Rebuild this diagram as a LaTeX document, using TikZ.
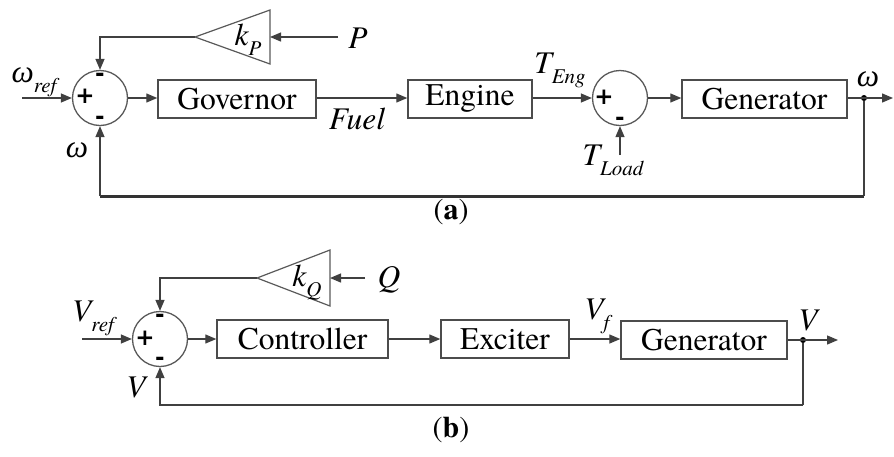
\documentclass[tikz,border=0pt]{standalone}
\usepackage{fontspec}
% Times-like serif for all labels
\setmainfont{texgyretermes}[Extension=.otf, UprightFont=*-regular, BoldFont=*-bold,
  ItalicFont=*-italic, BoldItalicFont=*-bolditalic]
\newfontfamily\signfont{DejaVu Sans}
\newfontfamily\greekfont{Liberation Serif}
\usetikzlibrary{arrows.meta}
\newcommand\subtxt[1]{\raisebox{-0.32em}{\fontsize{21}{21}\selectfont #1}}
\newcommand\omg{{\greekfont\itshape ω}}

\begin{document}
\begin{tikzpicture}[x=1pt,y=-1pt,
  wire/.style={line width=1.3pt, draw=black!75},
  flow/.style={wire,-{Triangle[length=11pt,width=9pt]}},
  block/.style={draw=black!70,line width=1.4pt,minimum height=38pt,inner sep=0pt,
                font=\fontsize{31.5}{34}\selectfont},
  summer/.style={circle,draw=black!65,line width=1.3pt,minimum size=55pt,inner sep=0pt},
  lbl/.style={font=\fontsize{31.5}{34}\selectfont\itshape,inner sep=0pt},
  sgn/.style={font=\signfont\bfseries\fontsize{23}{23}\selectfont,inner sep=0pt},
  gain/.style={draw=black!65,line width=1.2pt},
  tap/.style={circle,fill=black,minimum size=6pt,inner sep=0pt},
  captext/.style={font=\fontsize{30}{32}\selectfont,inner sep=0pt},
]
\useasboundingbox (0,0) rectangle (894,456);

% ---------------- (a) speed loop ----------------
\node[summer] (s1) at (100,98) {};
\node[sgn] at (85,96) {+};
\node[sgn] at (100,77) {-};
\node[sgn] at (100,120) {-};

\node[block,minimum width=158pt] (gov) at (237,99) {Governor};
\node[block,minimum width=124pt] (eng) at (470,99) {Engine};
\node[summer] (s2) at (620,98) {};
\node[sgn] at (604,97) {+};
\node[sgn] at (620,121) {-};
\node[block,minimum width=165pt] (gena) at (764.5,99) {Generator};

\coordinate (wrefin) at (22,98);
\node[lbl] at (34,82) {\omg\subtxt{ref}};
\draw[flow] (wrefin) -- (s1.west);
\draw[flow] (s1.east) -- (gov.west |- s1.east);
\draw[flow] (gov.east |- s1.east) -- (eng.west |- s1.east);
\node[lbl] at (357,119) {Fuel};
\draw[flow] (eng.east |- s2.west) -- (s2.west);
\node[lbl] at (560,70) {T\subtxt{Eng}};
\draw[flow] (s2.east) -- (gena.west |- s2.east);

\coordinate (tload) at (620,155);
\node[lbl] at (613,160) {T\subtxt{Load}};
\draw[flow] (tload) -- (s2.south);

\node[tap] (wtap) at (864,98) {};
\coordinate (wout) at (893,98);
\draw[flow] (gena.east |- wtap) -- (wout);
\node[lbl] at (868,79) {\omg};

% feedback path of the speed
\coordinate (fb1r) at (864,196);
\coordinate (fb1l) at (100,196);
\draw[wire] (wtap) -- (fb1r);
\draw[line width=3pt,draw=black!80] (fb1r) -- (fb1l);
\draw[flow] (fb1l) -- (s1.south);
\node[lbl] at (77,150) {\omg};

% droop gain k_P
\coordinate (kptip) at (195,37);
\coordinate (kpbase) at (270,37);
\draw[gain] (kptip) -- (270,10) -- (270,64) -- cycle;
\node[lbl] at (248,40) {k\subtxt{\itshape P}};
\node[lbl] (P) at (358,38) {P};
\draw[flow] (338,37) -- (kpbase);
\draw[flow] (kptip) -| (s1.north);

\node[captext] at (451,212) {(\textbf{a})};

% ---------------- (b) voltage loop ----------------
\node[summer] (s3) at (160,339) {};
\node[sgn] at (145,338) {+};
\node[sgn] at (160,318) {-};
\node[sgn] at (160,361) {-};

\node[block,minimum width=171pt] (ctl) at (302.5,339) {Controller};
\node[block,minimum width=128pt] (exc) at (505,339) {Exciter};
\node[block,minimum width=166pt] (genb) at (704,340) {Generator};

\coordinate (vrefin) at (82,339);
\node[lbl] at (93,318) {V\subtxt{ref}};
\draw[flow] (vrefin) -- (s3.west);
\draw[flow] (s3.east) -- (ctl.west |- s3.east);
\draw[flow] (ctl.east |- s3.east) -- (exc.west |- s3.east);
\draw[flow] (exc.east |- s3.east) -- (genb.west |- s3.east);
\node[lbl] at (597,316) {V\subtxt{f}};

\node[tap] (vtap) at (803,340) {};
\coordinate (vout) at (838,340);
\draw[flow] (genb.east |- vtap) -- (vout);
\node[lbl] at (808,320) {V};

% feedback path of the voltage
\coordinate (fb2r) at (803,405);
\draw[wire] (vtap) -- (fb2r);
\draw[flow] (fb2r) -| (s3.south);
\node[lbl] at (136,387) {V};

% droop gain k_Q
\coordinate (kqtip) at (257,278);
\coordinate (kqbase) at (330,278);
\draw[gain] (kqtip) -- (330,250) -- (330,306) -- cycle;
\node[lbl] at (307,283) {k\subtxt{\itshape Q}};
\node[lbl] (Q) at (389,280) {Q};
\draw[flow] (365,278) -- (kqbase);
\draw[flow] (kqtip) -| (s3.north);

\node[captext] at (451,430) {(\textbf{b})};
\end{tikzpicture}
\end{document}
